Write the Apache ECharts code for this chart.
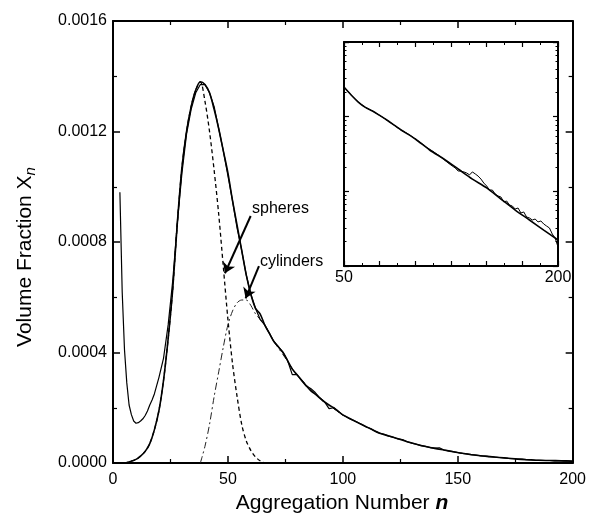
<!DOCTYPE html>
<html><head><meta charset="utf-8">
<script src="https://cdn.jsdelivr.net/npm/echarts@6/dist/echarts.min.js"></script>
<style>html,body{margin:0;padding:0;background:#fff}#c{width:589px;height:523px}</style>
</head><body><div id="c"></div><script>
// ---- main plot data ----
const simN = [3,4,5,6,7,8,9,10,11,12,13,14,15,16,17,18,19,20,22,24,26,28,30,32,34,36,38,40,42,44,46,48,50,52,54,56,58,60,62,64,66,68,70,72,74,76,78,80,82,84,86,88,90,92,94,96,98,100,102,104,106,108,110,112,114,116,118,120,122,124,126,128,130,132,134,136,138,140,142,144,146,148,150,152,154,156,158,160,162,164,166,168,170,172,174,176,178,180,182,184,186,188,190,192,194,196,198,200];
const simX = [0.00098,0.00062,0.00041,0.00029,0.00021,0.000175,0.000152,0.000144,0.000146,0.000152,0.00016,0.000172,0.000188,0.00021,0.000228,0.00025,0.00028,0.00031,0.00038,0.0005,0.00066,0.00087,0.00105,0.00119,0.00128,0.00134,0.00137,0.00137,0.00134,0.00129,0.00121,0.00113,0.00104,0.00095,0.00085,0.00077,0.00068,0.00061,0.00056,0.00052,0.0005,0.00047,0.00044,0.00042,0.0004,0.00037,0.00032,0.00032,0.0003,0.00028,0.00027,0.000255,0.000236,0.000222,0.000197,0.0002,0.000187,0.000174,0.000165,0.000156,0.000149,0.00014,0.000131,0.000125,0.000116,0.000108,0.000104,0.000097,0.000093,0.000087,0.000085,0.000077,0.000072,0.000068,0.000063,0.00006,0.000056,0.000054,0.000055,0.000047,0.000044,0.000041,0.000038,0.000035,0.000033,0.00003,0.000029,0.000026,0.000025,0.000023,0.000021,0.00002,0.000019,0.000017,0.000016,0.000014,0.000014,0.000012,0.000012,0.00001,0.00001,0.000009,0.000009,0.000008,0.000008,0.000007,0.000007,0.000005];

const fitN = [5,7,10,12,14,16,18,20,22,24,26,28,30,32,34,36,38,40,42,44,46,48,50,52,54,56,58,60,62,64,66,68,70,72,74,76,78,80,82,84,86,88,90,92,94,96,98,100,104,108,112,116,120,124,128,132,136,140,144,148,152,156,160,164,168,172,176,180,185,190,195,200];
const fitX = [0,0.000004,0.000013,0.000025,0.000042,0.00007,0.00012,0.00019,0.0003,0.00045,0.00063,0.00087,0.00107,0.0012,0.00129,0.00135,0.00138,0.00137,0.00134,0.00128,0.00121,0.00113,0.00105,0.00095,0.00086,0.00077,0.00068,0.00061,0.00056,0.00054,0.0005,0.00047,0.00044,0.00042,0.0004,0.00037,0.00034,0.00032,0.0003,0.00028,0.000262,0.000249,0.000235,0.000221,0.00021,0.0002,0.000187,0.000174,0.000157,0.00014,0.000124,0.000108,0.000098,0.000088,0.000077,0.000068,0.00006,0.000053,0.000047,0.000041,0.000035,0.00003,0.000026,0.000023,0.00002,0.000017,0.000014,0.000012,0.00001,0.000009,0.000008,0.000007];

const sphN = [5,7,10,12,14,16,18,20,22,24,26,28,30,32,34,36,38,40,42,44,46,48,50,52,54,56,58,60,62,64,66];
const sphX = [0,0.000004,0.000013,0.000025,0.000042,0.00007,0.00012,0.00019,0.0003,0.00045,0.00063,0.00087,0.00107,0.0012,0.00129,0.00135,0.00138,0.00131,0.0012,0.00106,0.0009,0.00071,0.00052,0.00036,0.00024,0.00014,0.00008,0.000045,0.000022,0.000008,0];

const cylN = [38,40,42,44,46,48,50,52,54,56,58,60,62,64,66,68,70,75,80,90,100];
const cylX = [0,0.00006,0.00014,0.00024,0.00033,0.00042,0.0005,0.00055,0.00058,0.00059,0.00059,0.00057,0.00054,0.00052,0.0005,0.00047,0.00044,0.00038,0.00032,0.000235,0.000174];

// ---- inset data (log scale) ----
const insFitN = [50,55,60,65,70,75,80,90,100,110,120,130,140,150,160,170,180,190,200];
const insFitX = [2.49e-4,1.95e-4,1.57e-4,1.33e-4,1.19e-4,1.04e-4,9.02e-5,6.63e-5,5.02e-5,3.58e-5,2.71e-5,1.99e-5,1.46e-5,1.11e-5,7.89e-6,5.62e-6,4.13e-6,3.03e-6,2.23e-6];
const insSimN = [50,55,60,65,70,75,80,85,90,95,100,104,108,112,116,120,124,128,130,132,134,136,138,140,142,144,146,148,150,152,154,156,158,160,162,164,166,168,170,172,174,176,178,180,182,184,186,188,190,192,194,196,198,200];
const insSimX = [2.50e-4,1.95e-4,1.57e-4,1.33e-4,1.19e-4,1.04e-4,9.02e-5,7.73e-5,6.63e-5,5.86e-5,5.02e-5,4.44e-5,3.86e-5,3.47e-5,3.07e-5,2.67e-5,2.32e-5,2.05e-5,1.87e-5,1.87e-5,1.82e-5,1.76e-5,1.66e-5,1.82e-5,1.71e-5,1.60e-5,1.46e-5,1.29e-5,1.18e-5,1.04e-5,1.04e-5,9.21e-6,8.66e-6,8.40e-6,7.20e-6,7.42e-6,6.56e-6,6.36e-6,5.80e-6,5.98e-6,5.13e-6,5.29e-6,4.53e-6,4.40e-6,4.13e-6,4.26e-6,3.89e-6,4.01e-6,3.65e-6,3.43e-6,3.23e-6,2.68e-6,2.37e-6,1.80e-6];

// ---- labels / annotations ----
const xTitle = 'Aggregation Number ';
const xTitleVar = 'n';
const yTitle = 'Volume Fraction X';
const yTitleSub = 'n';
const sphLabel = 'spheres';
const cylLabel = 'cylinders';
const sphArrow = [[59.9, 0.000894], [48.7, 0.000687]];
const cylArrow = [[63.5, 0.000713], [57.7, 0.000596]];

const zip = (a, b) => a.map((v, i) => [v, b[i]]);
const font = '"Liberation Sans", Arial, Helvetica, sans-serif';
const black = '#000';

function linAxis(o) {
  return Object.assign({
    type: 'value',
    axisLine: { show: true, onZero: false, lineStyle: { color: black, width: 2 } },
    axisTick: { show: true, inside: true, length: 7, lineStyle: { color: black, width: 1.5 } },
    minorTick: { show: true, splitNumber: 2, length: 4, lineStyle: { color: black, width: 1.2 } },
    splitLine: { show: false },
    axisLabel: { show: false }
  }, o);
}

const chart = echarts.init(document.getElementById('c'), null, { renderer: 'canvas' });
chart.setOption({
  animation: false,
  backgroundColor: '#fff',
  grid: [
    { left: 113, top: 21, width: 460, height: 442, containLabel: false },
    { left: 344, top: 42, width: 214, height: 224, containLabel: false, show: true, backgroundColor: '#fff', borderWidth: 0 }
  ],
  xAxis: [
    linAxis({ gridIndex: 0, min: 0, max: 200, interval: 50, position: 'bottom',
      axisLabel: { show: true, color: black, fontSize: 16, fontFamily: font, margin: 9 } }),
    linAxis({ gridIndex: 0, min: 0, max: 200, interval: 50, position: 'top' }),
    linAxis({ gridIndex: 1, min: 50, max: 200, interval: 25, position: 'bottom',
      axisTick: { show: true, inside: true, length: 5, lineStyle: { color: black, width: 1.2 } },
      minorTick: { show: true, splitNumber: 2, length: 3, lineStyle: { color: black, width: 1 } },
      axisLabel: { show: true, color: black, fontSize: 16, fontFamily: font, margin: 4,
        formatter: v => (v === 50 || v === 200) ? String(v) : '' } }),
    linAxis({ gridIndex: 1, min: 50, max: 200, interval: 25, position: 'top',
      axisTick: { show: true, inside: true, length: 5, lineStyle: { color: black, width: 1.2 } },
      minorTick: { show: true, splitNumber: 2, length: 3, lineStyle: { color: black, width: 1 } } })
  ],
  yAxis: [
    linAxis({ gridIndex: 0, min: 0, max: 0.0016, interval: 0.0004, position: 'left',
      axisLabel: { show: true, color: black, fontSize: 16, fontFamily: font, margin: 6,
        formatter: v => v.toFixed(4) } }),
    linAxis({ gridIndex: 0, min: 0, max: 0.0016, interval: 0.0004, position: 'right' }),
    { gridIndex: 1, type: 'log', logBase: 10, min: 1e-6, max: 1e-3, position: 'left',
      axisLine: { show: true, onZero: false, lineStyle: { color: black, width: 2 } },
      axisTick: { show: true, inside: true, length: 5, lineStyle: { color: black, width: 1.2 } },
      minorTick: { show: true, splitNumber: 8, length: 2.5, lineStyle: { color: black, width: 1 } },
      splitLine: { show: false }, axisLabel: { show: false } },
    { gridIndex: 1, type: 'log', logBase: 10, min: 1e-6, max: 1e-3, position: 'right',
      axisLine: { show: true, onZero: false, lineStyle: { color: black, width: 2 } },
      axisTick: { show: true, inside: true, length: 5, lineStyle: { color: black, width: 1.2 } },
      minorTick: { show: true, splitNumber: 8, length: 2.5, lineStyle: { color: black, width: 1 } },
      splitLine: { show: false }, axisLabel: { show: false } }
  ],
  series: [
    { name: 'spheres', type: 'line', xAxisIndex: 0, yAxisIndex: 0, data: zip(sphN, sphX),
      symbol: 'none', smooth: 0.3, lineStyle: { color: black, width: 1.3, type: [4, 3] },
      markLine: { silent: true, symbol: ['none', 'arrow'], symbolSize: 10, symbolOffset: 0, label: { show: false },
        lineStyle: { color: black, width: 2, type: 'solid' },
        itemStyle: { color: black },
        data: [
          [{ coord: sphArrow[0] }, { coord: sphArrow[1] }],
          [{ coord: cylArrow[0] }, { coord: cylArrow[1] }]
        ] } },
    { name: 'cylinders', type: 'line', xAxisIndex: 0, yAxisIndex: 0, data: zip(cylN, cylX),
      symbol: 'none', smooth: 0.3, lineStyle: { color: '#222', width: 1, type: [7, 3, 2, 3] } },
    { name: 'simulation', type: 'line', xAxisIndex: 0, yAxisIndex: 0, data: zip(simN, simX),
      symbol: 'none', lineStyle: { color: black, width: 1.2 } },
    { name: 'fit', type: 'line', xAxisIndex: 0, yAxisIndex: 0, data: zip(fitN, fitX),
      symbol: 'none', smooth: 0.3, lineStyle: { color: black, width: 1.6 } },
    { name: 'inset simulation', type: 'line', xAxisIndex: 2, yAxisIndex: 2, data: zip(insSimN, insSimX),
      symbol: 'none', lineStyle: { color: black, width: 1 } },
    { name: 'inset fit', type: 'line', xAxisIndex: 2, yAxisIndex: 2, data: zip(insFitN, insFitX),
      symbol: 'none', smooth: 0.3, lineStyle: { color: black, width: 1.6 } }
  ],
  graphic: [
    { type: 'text', left: 252, top: 201, style: { text: sphLabel, font: '16px ' + font, fill: black } },
    { type: 'text', left: 260, top: 254, style: { text: cylLabel, font: '16px ' + font, fill: black } },
    { type: 'text', x: 342, y: 503, style: {
        text: '{a|' + xTitle + '}{b|' + xTitleVar + '}', align: 'center', verticalAlign: 'middle',
        rich: { a: { fontSize: 21, fontFamily: font, fill: black },
                b: { fontSize: 21, fontFamily: font, fontStyle: 'italic', fontWeight: 'bold', fill: black } } } },
    { type: 'text', x: 25, y: 257, rotation: Math.PI / 2, style: {
        text: '{a|' + yTitle + '}{b|' + yTitleSub + '}', align: 'center', verticalAlign: 'middle',
        rich: { a: { fontSize: 21, fontFamily: font, fill: black, lineHeight: 26 },
                b: { fontSize: 15, fontFamily: font, fontStyle: 'italic', fill: black, lineHeight: 14, verticalAlign: 'bottom' } } } }
  ]
});
</script></body></html>
